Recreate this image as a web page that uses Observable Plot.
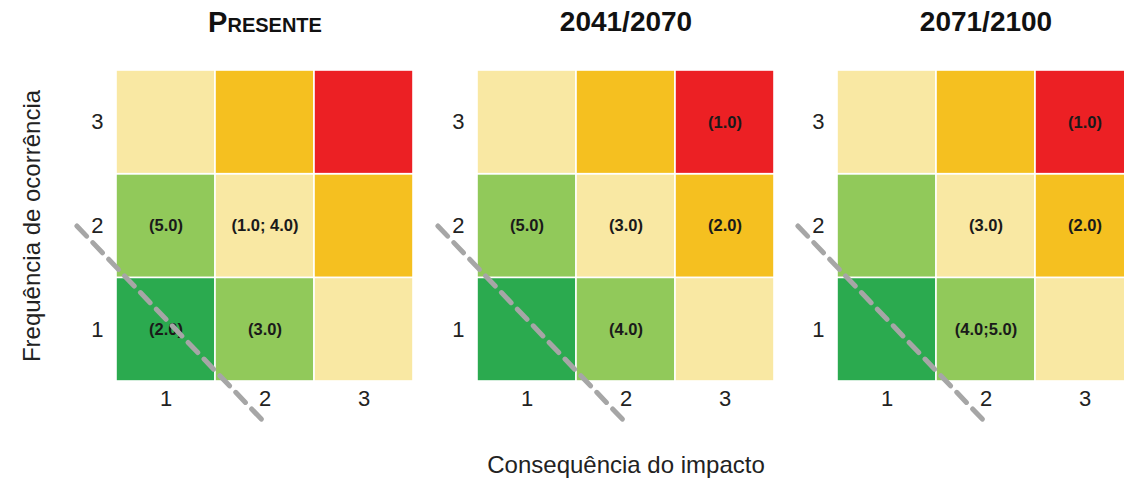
<!DOCTYPE html>
<html>
<head>
<meta charset="utf-8">
<script src="https://cdn.jsdelivr.net/npm/d3@7"></script>
<script src="https://cdn.jsdelivr.net/npm/@observablehq/plot@0.6"></script>
<style>
  html, body { margin: 0; padding: 0; background: #fff; }
  #wrap { position: relative; width: 1124px; height: 480px; overflow: hidden; background: #fff;
          font-family: "Liberation Sans", Arial, sans-serif; }
</style>
</head>
<body>
<div id="wrap"></div>
<script>
// ---- data ----
const periods = ["Presente", "2041/2070", "2071/2100"];
const consequence = [1, 2, 3];   // x categories
const frequency = [1, 2, 3];     // y categories
// risk level = consequence + frequency -> colour class
const riskLevels = [2, 3, 4, 5, 6];
const riskColors = ["#2baa4f", "#91c95a", "#f9e8a3", "#f5c020", "#ec2024"];

const labelsPresente = [
  {c: 1, r: 2, t: "(5.0)"},
  {c: 2, r: 2, t: "(1.0; 4.0)"},
  {c: 1, r: 1, t: "(2.0)"},
  {c: 2, r: 1, t: "(3.0)"}
];
const labels2041 = [
  {c: 3, r: 3, t: "(1.0)"},
  {c: 1, r: 2, t: "(5.0)"},
  {c: 2, r: 2, t: "(3.0)"},
  {c: 3, r: 2, t: "(2.0)"},
  {c: 2, r: 1, t: "(4.0)"}
];
const labels2071 = [
  {c: 3, r: 3, t: "(1.0)"},
  {c: 2, r: 2, t: "(3.0)"},
  {c: 3, r: 2, t: "(2.0)"},
  {c: 2, r: 1, t: "(4.0;5.0)"}
];
const panelLabels = [labelsPresente, labels2041, labels2071];

// dashed threshold diagonal, in data units (consequence, frequency)
const thresholdLine = [[0.1, 2.0], [2.0, 0.1]];

const yTitle = "Frequência de ocorrência";
const xTitle = "Consequência do impacto";

// ---- build ----
const cells = [];
for (const c of consequence) for (const r of frequency) cells.push({c, r, level: c + r});

const layout = [
  {left: 0,   width: 423, ml: 116, mr: 10},
  {left: 420, width: 363, ml: 57,  mr: 9},
  {left: 780, width: 363, ml: 57,  mr: 9}
];

const wrap = document.getElementById("wrap");
const FONT = "'Liberation Sans', Arial, sans-serif";

periods.forEach((period, i) => {
  const L = layout[i];
  const marks = [
    Plot.rect(cells, {
      x1: d => d.c - 0.5, x2: d => d.c + 0.5,
      y1: d => d.r - 0.5, y2: d => d.r + 0.5,
      fill: d => d.level, stroke: "white", strokeWidth: 1.6
    }),
    Plot.text(panelLabels[i], {
      x: "c", y: "r", text: "t",
      fontWeight: "bold", fontSize: 16.5, fill: "#1a1a1a"
    }),
    Plot.line(thresholdLine, {
      stroke: "#a6a6a6", strokeWidth: 5, strokeDasharray: "14,9"
    }),
    Plot.text([period], {
      frameAnchor: "top", lineAnchor: "middle", textAnchor: "middle", dy: -48,
      text: d => d,
      fontWeight: "bold", fontSize: i === 0 ? 29 : 28,
      fontVariant: i === 0 ? "small-caps" : "normal",
      fill: "#111"
    })
  ];
  if (i === 0) {
    marks.push(Plot.text([yTitle], {
      frameAnchor: "left", rotate: -90, dx: -84, lineAnchor: "middle", textAnchor: "middle",
      fontSize: 24, fill: "#222"
    }));
  }
  if (i === 1) {
    marks.push(Plot.text([xTitle], {
      frameAnchor: "bottom", lineAnchor: "middle", textAnchor: "middle", dy: 84,
      fontSize: 24, fill: "#222"
    }));
  }
  const chart = Plot.plot({
    width: L.width,
    height: 480,
    marginLeft: L.ml,
    marginRight: L.mr,
    marginTop: 70,
    marginBottom: 99,
    style: {background: "transparent", fontFamily: FONT, fontSize: "22px", color: "#222", overflow: "visible"},
    x: {domain: [0.5, 3.5], ticks: consequence, tickFormat: d => String(d), tickSize: 0, tickPadding: 9, label: null},
    y: {domain: [0.5, 3.5], ticks: frequency, tickFormat: d => String(d), tickSize: 0, tickPadding: 13, label: null},
    color: {type: "ordinal", domain: riskLevels, range: riskColors},
    marks
  });
  chart.style.left = L.left + "px";
  chart.style.position = "absolute";
  chart.style.top = "0px";
  chart.style.maxWidth = "none";
  wrap.appendChild(chart);
});
</script>
</body>
</html>
